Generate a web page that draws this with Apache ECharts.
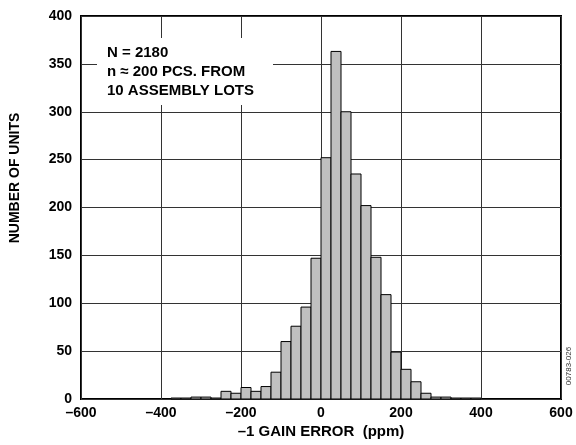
<!DOCTYPE html>
<html>
<head>
<meta charset="utf-8">
<script src="https://cdn.jsdelivr.net/npm/echarts@6/dist/echarts.min.js"></script>
<style>
html,body{margin:0;padding:0;background:#fff;}
#chart{width:576px;height:445px;}
</style>
</head>
<body>
<div id="chart"></div>
<script>
// Histogram bins (ppm): start of each bin, bin width, counts
const binStarts = [-375, -350, -325, -300, -275, -250, -225, -200, -175, -150, -125, -100, -75, -50, -25,
                   0, 25, 50, 75, 100, 125, 150, 175, 200, 225, 250, 275, 300, 325, 350, 375];
const binWidth = 25;
const counts = [1, 1, 2, 2, 1, 8, 6, 12, 8, 13, 28, 60, 76, 96, 147,
                252, 363, 300, 235, 202, 148, 109, 49, 31, 18, 6, 2, 2, 1, 1, 1];
const xTicks = [-600, -400, -200, 0, 200, 400, 600];
const yTicks = [0, 50, 100, 150, 200, 250, 300, 350, 400];
const annotation = ['N = 2180', 'n \u2248 200 PCS. FROM', '10 ASSEMBLY LOTS'];
const xTitle = '\u20131 GAIN ERROR  (ppm)';
const yTitle = 'NUMBER OF UNITS';
const figId = '00783-026';

const FONT = "'Liberation Sans', Arial, sans-serif";
const data = binStarts.map((s, i) => [s, s + binWidth, counts[i]]);

const chart = echarts.init(document.getElementById('chart'), null, {renderer: 'canvas'});
chart.setOption({
  animation: false,
  backgroundColor: '#fff',
  grid: {left: 81, right: 15, top: 16, bottom: 46, show: true, borderColor: '#000', borderWidth: 2, containLabel: false},
  xAxis: {
    type: 'value', min: xTicks[0], max: xTicks[xTicks.length - 1], interval: 200,
    axisLine: {show: false}, axisTick: {show: false},
    splitLine: {show: true, lineStyle: {color: '#333', width: 1}},
    axisLabel: {margin: 7, color: '#000', fontFamily: FONT, fontWeight: 'bold', fontSize: 14,
      formatter: v => String(v).replace('-', '\u2013')}
  },
  yAxis: {
    type: 'value', min: yTicks[0], max: yTicks[yTicks.length - 1], interval: 50,
    axisLine: {show: false}, axisTick: {show: false},
    splitLine: {show: true, lineStyle: {color: '#333', width: 1}},
    axisLabel: {margin: 9, color: '#000', fontFamily: FONT, fontWeight: 'bold', fontSize: 14}
  },
  series: [{
    type: 'custom',
    data: data,
    encode: {x: [0, 1], y: 2},
    z: 5,
    renderItem: function (params, api) {
      const p0 = api.coord([api.value(0), api.value(2)]);
      const p1 = api.coord([api.value(1), 0]);
      return {
        type: 'rect',
        shape: {x: p0[0], y: p0[1], width: p1[0] - p0[0], height: p1[1] - p0[1]},
        style: {fill: '#c0c0c0', stroke: '#000', lineWidth: 1}
      };
    }
  }],
  graphic: [
    {type: 'rect', left: 97, top: 38, shape: {width: 176, height: 67}, style: {fill: '#fff'}, z: 10},
    {type: 'text', left: 107, top: 43, z: 11,
      style: {text: annotation.join('\n'), fill: '#000', font: 'bold 15px ' + FONT, lineHeight: 19}},
    {type: 'text', x: 15, y: 178, rotation: Math.PI / 2, z: 11,
      style: {text: yTitle, fill: '#000', font: 'bold 14px ' + FONT, textAlign: 'center', textVerticalAlign: 'middle'}},
    {type: 'text', x: 321, y: 432, z: 11,
      style: {text: xTitle, fill: '#000', font: 'bold 15px ' + FONT, textAlign: 'center', textVerticalAlign: 'middle'}},
    {type: 'text', x: 569, y: 366, rotation: Math.PI / 2, z: 11,
      style: {text: figId, fill: '#333', font: '8px ' + FONT, textAlign: 'center', textVerticalAlign: 'middle'}}
  ]
});
</script>
</body>
</html>
